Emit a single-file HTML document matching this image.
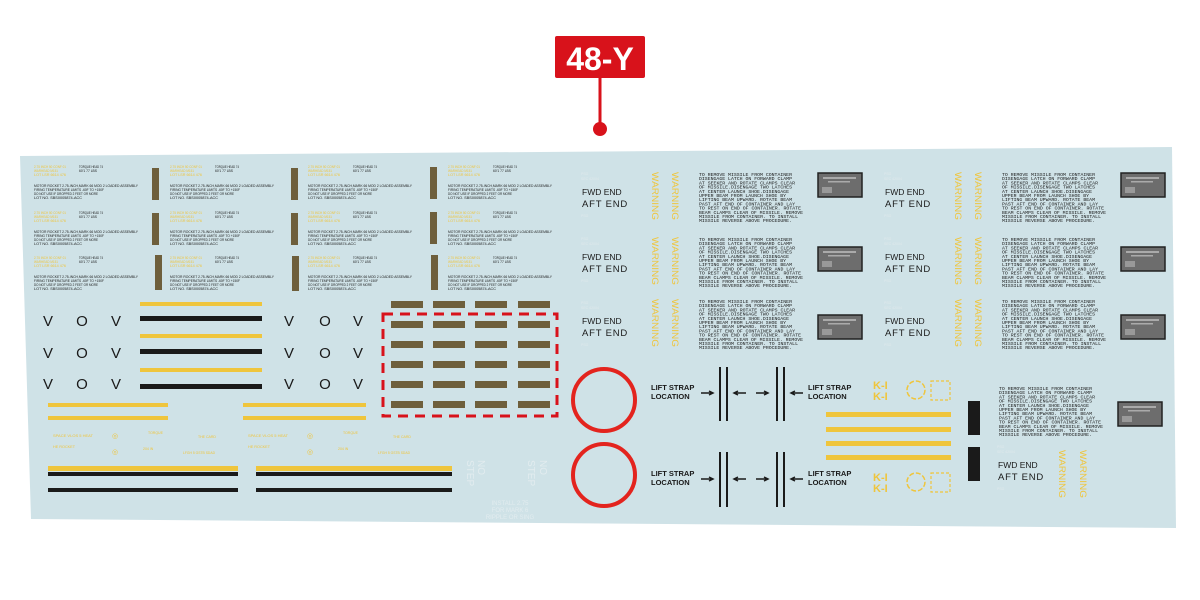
<!DOCTYPE html>
<html><head><meta charset="utf-8"><style>
html,body{margin:0;padding:0;background:#fff;width:1200px;height:600px;overflow:hidden}
svg{display:block}
text{font-family:"Liberation Sans",sans-serif}
.m{font-family:"Liberation Mono",monospace}
</style></head><body>
<svg id="s" width="1200" height="600" viewBox="0 0 1200 600" xmlns="http://www.w3.org/2000/svg">
<polygon points="20,156 1172,147 1176,528 31,519" fill="#cfe2e7"/>
<rect x="555" y="36" width="90" height="42" rx="2" fill="#d8121b"/>
<text x="600" y="70" text-anchor="middle" font-size="32" font-weight="bold" fill="#fff">48-Y</text>
<line x1="600" y1="78" x2="600" y2="126" stroke="#d8121b" stroke-width="3"/>
<circle cx="600" cy="129" r="7" fill="#d8121b"/>
<g id="g"></g>
</svg>
<script>
var g=document.getElementById('g'),NS='http://www.w3.org/2000/svg';
function el(t,a,txt){var e=document.createElementNS(NS,t);for(var k in a)e.setAttribute(k,a[k]);if(txt!=null)e.textContent=txt;g.appendChild(e);return e;}
function R(x,y,w,h,f){el('rect',{x:x,y:y,width:w,height:h,fill:f});}
function T(x,y,s,c,t,extra){var a={x:x,y:y,'font-size':s,fill:c};for(var k in extra)a[k]=extra[k];return el('text',a,t);}
var Y='#efc53c',B='#1a1a1a',BR='#6e5f3c',L={lengthAdjust:'spacingAndGlyphs'};
function TL(x,y,s,c,t,len){return T(x,y,s,c,t,{textLength:len,lengthAdjust:'spacingAndGlyphs'});}
// left text blocks
var cols=[34,170,308,448],rows=[168,214,259];
cols.forEach(function(x){rows.forEach(function(y){
 TL(x,y,3.5,Y,'2.75 INCH 50 CONF 01',32);TL(x,y+4,3.5,Y,'WARHEAD M151',24);TL(x,y+8,3.5,Y,'LOT LSR 6614   476',32);
 TL(x+45,y,3.5,B,'TORQUE HEAD 74',24);TL(x+45,y+4,3.5,B,'60\'1  77 LBS',18);
 TL(x,y+19,3.3,B,'MOTOR ROCKET 2.75-INCH,MARK 66 MOD 2 LOADED ASSEMBLY',104);
 TL(x,y+23,3.3,B,'FIRING TEMPERATURE LIMITS -60F TO +150F',70);TL(x,y+27,3.3,B,'DO NOT USE IF DROPPED 2 FEET OR MORE',64);TL(x,y+31,3.3,B,'LOT NO. SBS0005874-ACC',48);
});});
[[152,168,32],[152,213,32],[155,255,35],[291,168,32],[291,213,32],[292,256,35],[430,167,32],[430,212,32],[431,255,35]].forEach(function(b){R(b[0],b[1],7,b[2],BR);});
// V O V symbols
[[48,82,116],[289,325,358]].forEach(function(xs){[320,352,383].forEach(function(y){
 T(xs[0],y+6,15,B,'V',{'text-anchor':'middle'});T(xs[1],y+6,15,B,'O',{'text-anchor':'middle'});T(xs[2],y+6,15,B,'V',{'text-anchor':'middle'});});});
// stripes
[[302,318],[334,351],[368,386]].forEach(function(p){R(140,p[0],122,4,Y);R(140,p[1]-2,122,5,B);});
[[48,168],[243,366]].forEach(function(p){R(p[0],403,p[1]-p[0],4,Y);R(p[0],416,p[1]-p[0],4,Y);});
R(48,466,190,5,Y);R(48,472,190,4,B);R(48,488,190,4,B);
R(256,466,196,5,Y);R(256,472,196,4,B);R(256,488,196,4,B);
// small yellow text row
[48,243].forEach(function(x){TL(x+5,437,4,Y,'SPACE VLOS 5 HEAT',40);TL(x+5,448,3.5,Y,'HE ROCKET',22);T(x+64,438,7,Y,'◎');T(x+100,434,3.5,Y,'TORQUE');T(x+95,450,3.5,Y,'204 IN');T(x+64,454,7,Y,'◎');TL(x+135,454,3.5,Y,'LFGH 5 GSTB SDAD',32);T(x+150,438,3.5,Y,'THE CARD');});
// brown grid
[391,433,475,518].forEach(function(x){[301,321,341,361,381,401].forEach(function(y){R(x,y,32,7,BR);});});
el('rect',{x:383,y:314,width:174,height:102,fill:'none',stroke:'#d8121b','stroke-width':3,'stroke-dasharray':'10 7'});
// NO STEP faint
T(478,460,10,'#e2ecef','NO',{transform:'rotate(90 478 460)'});T(467,460,10,'#e2ecef','STEP',{transform:'rotate(90 467 460)'});
T(540,460,10,'#e2ecef','NO',{transform:'rotate(90 540 460)'});T(528,460,10,'#e2ecef','STEP',{transform:'rotate(90 528 460)'});
T(510,505,6,'#e2ecef','INSTALL 2.75',{'text-anchor':'middle'});T(510,512,6,'#e2ecef','FOR MARK 6',{'text-anchor':'middle'});T(510,519,6,'#e2ecef','RIPPLE OR SING',{'text-anchor':'middle'});
// red circles
el('ellipse',{cx:604,cy:400,rx:31,ry:31,fill:'none',stroke:'#e3241e','stroke-width':4});
el('ellipse',{cx:604,cy:475,rx:31,ry:31,fill:'none',stroke:'#e3241e','stroke-width':4});
// lift strap
[[391,367,421,380],[477,452,507,472]].forEach(function(r){var y=r[0];
 T(651,y-1,7.5,B,'LIFT STRAP',{'font-weight':'bold'});T(651,y+8,7.5,B,'LOCATION',{'font-weight':'bold'});
 T(808,y-1,7.5,B,'LIFT STRAP',{'font-weight':'bold'});T(808,y+8,7.5,B,'LOCATION',{'font-weight':'bold'});
 [719,726,776,783].forEach(function(x){R(x,r[1],2,r[2]-r[1],B);});
 var ay=y+2;
 el('path',{d:'M701 '+ay+'H713M709 '+(ay-2)+'L713 '+ay+'L709 '+(ay+2),stroke:B,'stroke-width':1.5,fill:'none'});
 el('path',{d:'M734 '+ay+'H746M738 '+(ay-2)+'L734 '+ay+'L738 '+(ay+2),stroke:B,'stroke-width':1.5,fill:'none'});
 el('path',{d:'M756 '+ay+'H768M764 '+(ay-2)+'L768 '+ay+'L764 '+(ay+2),stroke:B,'stroke-width':1.5,fill:'none'});
 el('path',{d:'M791 '+ay+'H803M795 '+(ay-2)+'L791 '+ay+'L795 '+(ay+2),stroke:B,'stroke-width':1.5,fill:'none'});
 var ky=r[3];
 T(873,ky+9,11,Y,'K-I',{'font-weight':'bold'});T(873,ky+20,11,Y,'K-I',{'font-weight':'bold'});
 el('circle',{cx:916,cy:ky+10,r:9,fill:'none',stroke:Y,'stroke-width':1.5,'stroke-dasharray':'5 2'});
 el('rect',{x:931,y:ky+1,width:19,height:19,fill:'none',stroke:Y,'stroke-width':1.2,'stroke-dasharray':'3 2'});
});
[414,429,443,457].forEach(function(y){R(826,y-2,125,5,Y);});
R(968,401,12,34,B);R(968,447,12,34,B);
// right blocks
var lines=['TO REMOVE MISSILE FROM CONTAINER','DISENGAGE LATCH ON FORWARD CLAMP','AT SEEKER AND ROTATE CLAMPS CLEAR','OF MISSILE.DISENGAGE TWO LATCHES','AT CENTER LAUNCH SHOE.DISENGAGE','UPPER BEAM FROM LAUNCH SHOE BY','LIFTING BEAM UPWARD. ROTATE BEAM','PAST AFT END OF CONTAINER AND LAY','TO REST ON END OF CONTAINER. ROTATE','BEAM CLAMPS CLEAR OF MISSILE. REMOVE','MISSILE FROM CONTAINER. TO INSTALL','MISSILE REVERSE ABOVE PROCEDURE.'];
function block(x,y){lines.forEach(function(l,i){var t=T(x,y+i*4.2,4.6,B,l,{'class':'m',textLength:Math.round(l.length*2.9),lengthAdjust:'spacingAndGlyphs'});});}
function grey(x,y){el('rect',{x:x,y:y,width:44,height:24,fill:'#6d6d6d',stroke:'#222','stroke-width':1.5});R(x+5,y+4,33,2,'#aaa');R(x+10,y+8,22,1.5,'#aaa');R(x+4,y+14,10,6,'#999');}
function fwd(x,y){T(x-1,y-17,3.5,'#dfe9ec','PSG');T(x-1,y-12,3.5,'#dfe9ec','SEC 42004');T(x,y+3,8.5,B,'FWD  END');T(x,y+15,9.5,B,'AFT END',{'letter-spacing':'0.8'});T(x-1,y+25,3.5,'#dfe9ec','PSG');}
function warn(x,y){T(x-3,y,9,Y,'WARNING',{transform:'rotate(90 '+(x-3)+' '+y+')',textLength:48,lengthAdjust:'spacingAndGlyphs'});}
[[172,192],[237,257],[299,321]].forEach(function(r,i){
 var gy=[173,247,315][i];
 block(699,r[0]+4);grey(818,gy);fwd(582,r[1]);warn(655,r[0]);warn(675,r[0]);
 block(1002,r[0]+4);grey(1121,gy);fwd(885,r[1]);warn(958,r[0]);warn(978,r[0]);
});
block(999,390);grey(1118,402);fwd(998,465);warn(1062,450);warn(1083,450);
</script>
</body></html>
